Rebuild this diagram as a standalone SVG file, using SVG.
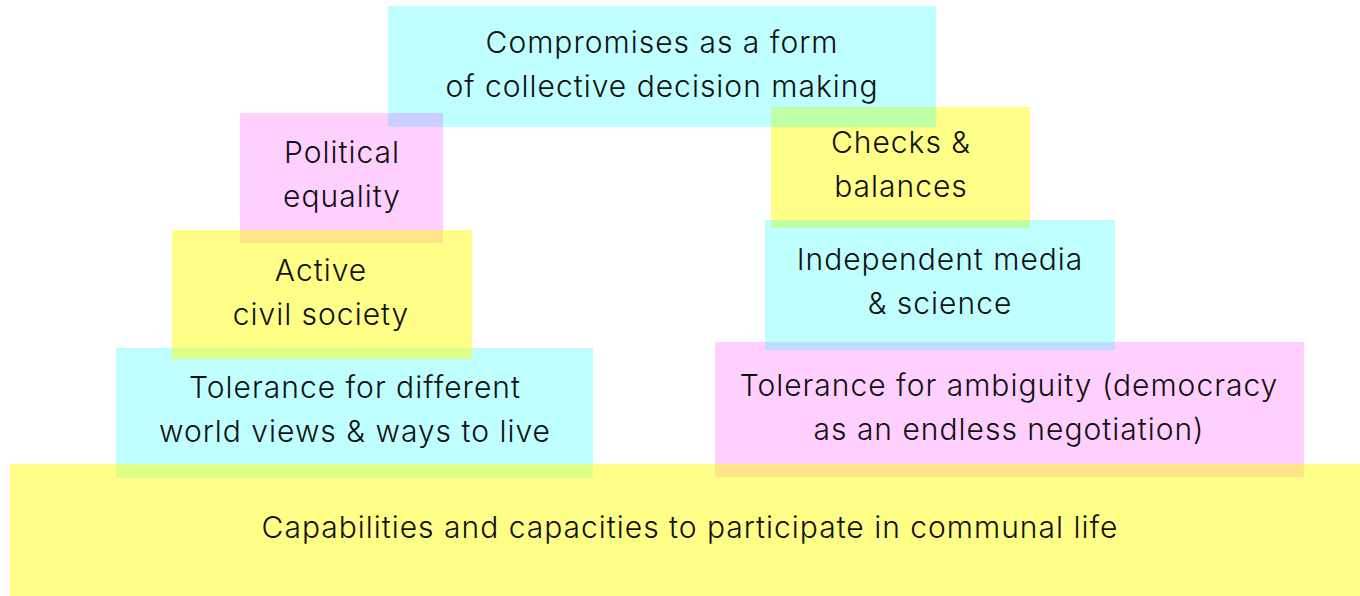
<svg xmlns="http://www.w3.org/2000/svg" width="1360" height="596" viewBox="0 0 1360 596">
<style>
.c{fill:#00ffff;fill-opacity:0.25}
.p{fill:#ff00ff;fill-opacity:0.19}
.y{fill:#ffff00;fill-opacity:0.47}
text{font-family:Inter,"Noto Sans",sans-serif;font-size:30px;letter-spacing:1px;fill:#111;text-anchor:middle;font-weight:300}
</style>
<rect width="1360" height="596" fill="#ffffff"/>
<g id="checks"><rect class="y" x="771" y="107" width="259" height="121"/><text x="901" y="153">Checks &amp;</text><text x="901" y="197">balances</text></g>
<g id="compromises"><rect class="c" x="388" y="6" width="548" height="121"/><text x="662" y="53">Compromises as a form</text><text x="662" y="97">of collective decision making</text></g>
<g id="political"><rect class="p" x="240" y="113" width="203" height="130"/><text x="342" y="163">Political</text><text x="342" y="207">equality</text></g>
<g id="tolerance-views"><rect class="c" x="116" y="348" width="477" height="130"/><text x="355" y="398">Tolerance for different</text><text x="355" y="442">world views &amp; ways to live</text></g>
<g id="civil"><rect class="y" x="172" y="230" width="300" height="129"/><text x="321" y="281">Active</text><text x="321" y="325">civil society</text></g>
<g id="tolerance-ambiguity"><rect class="p" x="715" y="342" width="589" height="135"/><text x="1009" y="396">Tolerance for ambiguity (democracy</text><text x="1009" y="440">as an endless negotiation)</text></g>
<g id="media"><rect class="c" x="765" y="220" width="350" height="130"/><text x="940" y="270">Independent media</text><text x="940" y="314">&amp; science</text></g>
<g id="capabilities"><rect class="y" x="10" y="464" width="1360" height="132"/><text x="690" y="538">Capabilities and capacities to participate in communal life</text></g>
<g id="connectors"></g>
</svg>
